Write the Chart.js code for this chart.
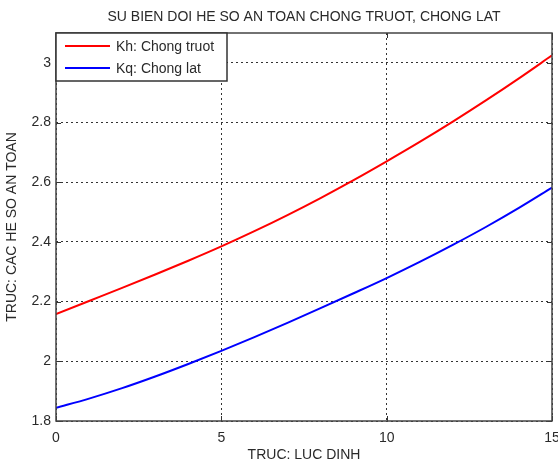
<!DOCTYPE html>
<html><head><meta charset="utf-8">
<script src="https://cdn.jsdelivr.net/npm/chart.js@4"></script>
<style>html,body{margin:0;padding:0;background:#fff}#wrap{width:558px;height:465px}</style>
</head><body><div id="wrap"><canvas id="c" width="558" height="465"></canvas></div>
<script>
const chartTitle = 'SU BIEN DOI HE SO AN TOAN CHONG TRUOT, CHONG LAT';
const xTitle = 'TRUC: LUC DINH';
const yTitle = 'TRUC: CAC HE SO AN TOAN';
const seriesNames = ['Kh: Chong truot', 'Kq: Chong lat'];
const xValues = [0,1,2,3,4,5,6,7,8,9,10,11,12,13,14,15];
const khValues = [2.158,2.202,2.246,2.291,2.337,2.385,2.436,2.490,2.547,2.607,2.670,2.735,2.803,2.874,2.948,3.025];
const kqValues = [1.844,1.875,1.910,1.949,1.991,2.035,2.081,2.129,2.178,2.228,2.279,2.333,2.390,2.450,2.514,2.582];
const xTicks = [0,5,10,15];
const yTicks = [1.8,2,2.2,2.4,2.6,2.8,3];
const xRange = [0,15];
const yRange = [1.8,3.1];

const FONT = 'Liberation Sans, Arial, sans-serif';
const TXT = '#2a2a2a';

const boxPlugin = {
  id: 'matlabBox',
  afterDatasetsDraw(chart) {
    const {ctx, chartArea: a, scales} = chart;
    ctx.save();
    ctx.strokeStyle = '#333';
    ctx.lineWidth = 1;
    const tl = 5;
    ctx.beginPath();
    scales.x.ticks.forEach(t => {
      const px = Math.round(scales.x.getPixelForValue(t.value)) + 0.5;
      ctx.moveTo(px, a.bottom); ctx.lineTo(px, a.bottom - tl);
      ctx.moveTo(px, a.top); ctx.lineTo(px, a.top + tl);
    });
    scales.y.ticks.forEach(t => {
      const py = Math.round(scales.y.getPixelForValue(t.value)) + 0.5;
      ctx.moveTo(a.left, py); ctx.lineTo(a.left + tl, py);
      ctx.moveTo(a.right, py); ctx.lineTo(a.right - tl, py);
    });
    ctx.stroke();
    ctx.strokeStyle = '#444';
    ctx.lineWidth = 1.5;
    ctx.strokeRect(a.left, a.top, a.right - a.left, a.bottom - a.top);
    const lx = a.left, ly = a.top, lw = 171, lh = 48;
    ctx.fillStyle = '#fff';
    ctx.fillRect(lx, ly, lw, lh);
    ctx.strokeStyle = '#333';
    ctx.lineWidth = 1.5;
    ctx.strokeRect(lx, ly, lw, lh);
    ctx.font = '14px ' + FONT;
    ctx.textBaseline = 'middle';
    ctx.textAlign = 'left';
    chart.data.datasets.forEach((ds, i) => {
      const yy = ly + 13 + i * 22;
      ctx.strokeStyle = ds.borderColor;
      ctx.lineWidth = 2;
      ctx.beginPath(); ctx.moveTo(lx + 9, yy); ctx.lineTo(lx + 54, yy); ctx.stroke();
      ctx.fillStyle = TXT;
      ctx.fillText(ds.label, lx + 60, yy + 1);
    });
    ctx.font = '14px ' + FONT;
    ctx.textAlign = 'center';
    ctx.fillStyle = TXT;
    ctx.fillText(chartTitle, (a.left + a.right) / 2, a.top - 16);
    ctx.restore();
  }
};

new Chart(document.getElementById('c'), {
  type: 'line',
  data: {
    datasets: [
      { label: seriesNames[0], data: xValues.map((x, i) => ({x, y: khValues[i]})), borderColor: '#ff0000', borderWidth: 2, pointRadius: 0, cubicInterpolationMode: 'monotone', fill: false },
      { label: seriesNames[1], data: xValues.map((x, i) => ({x, y: kqValues[i]})), borderColor: '#0000ff', borderWidth: 2, pointRadius: 0, cubicInterpolationMode: 'monotone', fill: false }
    ]
  },
  options: {
    responsive: false,
    animation: false,
    layout: { padding: { top: 33, right: 6, left: 0, bottom: 0 } },
    plugins: { legend: { display: false }, title: { display: false }, tooltip: { enabled: false } },
    scales: {
      x: {
        type: 'linear', min: xRange[0], max: xRange[1],
        afterBuildTicks: s => { s.ticks = xTicks.map(v => ({value: v})); },
        afterFit: s => { s.height = 44; s.paddingLeft = 0; s.paddingRight = 0; },
        grid: { color: '#333', lineWidth: 1, drawTicks: false },
        border: { display: false, dash: [2, 3] },
        ticks: { padding: 9, color: TXT, font: { family: FONT, size: 14 }, maxRotation: 0, callback: v => String(v) },
        title: { display: true, text: xTitle, color: TXT, font: { family: FONT, size: 14 }, padding: { top: 0, bottom: 1 } }
      },
      y: {
        type: 'linear', min: yRange[0], max: yRange[1],
        afterBuildTicks: s => { s.ticks = yTicks.map(v => ({value: v})); },
        afterFit: s => { s.width = 56; s.paddingTop = 0; s.paddingBottom = 0; },
        grid: { color: '#333', lineWidth: 1, drawTicks: false },
        border: { display: false, dash: [2, 3] },
        ticks: { padding: 5, color: TXT, font: { family: FONT, size: 14 }, callback: v => String(+(+v).toFixed(1)) },
        title: { display: true, text: yTitle, color: TXT, font: { family: FONT, size: 14 }, padding: { top: 4, bottom: 0 } }
      }
    }
  },
  plugins: [boxPlugin]
});
</script>
</body></html>
